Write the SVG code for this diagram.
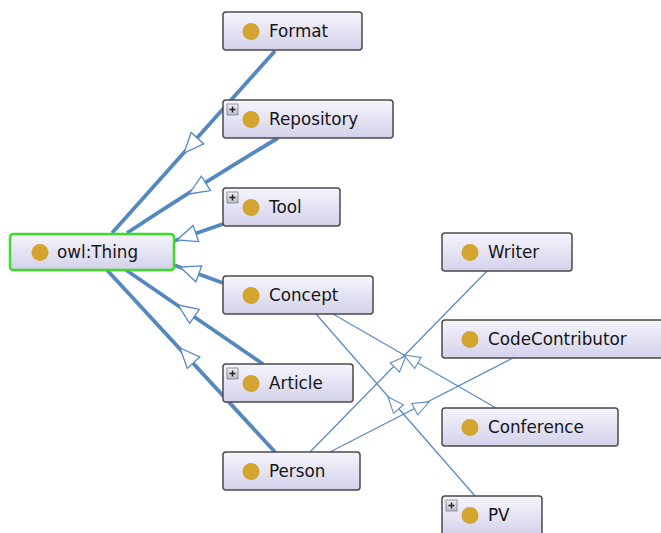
<svg xmlns="http://www.w3.org/2000/svg" xmlns:xlink="http://www.w3.org/1999/xlink" width="661" height="533" viewBox="0 0 661 533">
<defs>
<linearGradient id="g" x1="0" y1="0" x2="0" y2="1">
<stop offset="0" stop-color="#f6f5fc"/>
<stop offset="1" stop-color="#d3d1ea"/>
</linearGradient>
<linearGradient id="pg" x1="0" y1="0" x2="0" y2="1">
<stop offset="0" stop-color="#f2f2f2"/>
<stop offset="1" stop-color="#b8bcc8"/>
</linearGradient>
<polygon id="ahT" points="0,0 20,-8.5 20,8.5"/>
<polygon id="aht" points="0,0 16,-6.5 16,6.5"/>
<g id="plus">
<rect x="0" y="0" width="11" height="11" fill="url(#pg)" stroke="#7a7f8c" stroke-width="0.8"/>
<path d="M2.5 5.5H8.5M5.5 2.5V8.5" stroke="#222" stroke-width="1.4"/>
</g>
</defs>
<style>
.node rect.box{fill:url(#g);stroke:#4a4a4a;stroke-width:1.5}
.dot{fill:#d3a42e}
.lbl{font-family:"DejaVu Sans",sans-serif;font-size:16.8px;fill:#151515}
.thick{fill:none;stroke:#5588bf;stroke-width:3.8}
.thin{fill:none;stroke:#5b8dc2;stroke-width:1.3}
.ah{fill:#fff;stroke:#5588bf;stroke-width:1.3;stroke-linejoin:miter}
.ahs{fill:#fff;stroke:#5b8dc2;stroke-width:1.1;stroke-linejoin:miter}
</style>
<rect width="661" height="533" fill="#fff"/>
<g id="connectors">
<path class="thick" d="M112 233L275 51"/>
<path class="thick" d="M127 233Q200 185 278 138"/>
<path class="thick" d="M174 241L223 224"/>
<path class="thick" d="M174 265L223 283"/>
<path class="thick" d="M126 270L263 364"/>
<path class="thick" d="M107 270L275 452"/>
<path class="thin" d="M310 452L487 271"/>
<path class="thin" d="M330 452L513 358"/>
<path class="thin" d="M496 408L333 314"/>
<path class="thin" d="M475 496L316 314"/>
<use xlink:href="#ahT" class="ah" transform="translate(184,153) rotate(-47.7)"/>
<use xlink:href="#ahT" class="ah" transform="translate(189,194) rotate(-32.2)"/>
<use xlink:href="#ahT" class="ah" transform="translate(177,240) rotate(-19)"/>
<use xlink:href="#ahT" class="ah" transform="translate(180,267) rotate(20)"/>
<use xlink:href="#ahT" class="ah" transform="translate(178,305) rotate(34.5)"/>
<use xlink:href="#ahT" class="ah" transform="translate(180,348) rotate(47.3)"/>
<use xlink:href="#aht" class="ahs" transform="translate(406,356) rotate(134.4)"/>
<use xlink:href="#aht" class="ahs" transform="translate(429,402) rotate(152.8)"/>
<use xlink:href="#aht" class="ahs" transform="translate(404,355) rotate(30)"/>
<use xlink:href="#aht" class="ahs" transform="translate(388,397) rotate(48.9)"/>
</g>
<g id="owlThing" class="node">
<rect x="10" y="234" width="164" height="36" rx="3" fill="url(#g)" stroke="#3ddc2a" stroke-width="2.5"/>
<circle class="dot" cx="40" cy="252.5" r="8.5"/>
<text class="lbl" x="57" y="258">owl:Thing</text>
</g>
<g id="Format" class="node">
<rect class="box" x="223" y="12" width="139" height="38" rx="3"/>
<circle class="dot" cx="251" cy="31.5" r="8.5"/>
<text class="lbl" x="269" y="37">Format</text>
</g>
<g id="Repository" class="node">
<rect class="box" x="223" y="100" width="170" height="38" rx="3"/>
<use xlink:href="#plus" x="227" y="104"/>
<circle class="dot" cx="251" cy="119.5" r="8.5"/>
<text class="lbl" x="269" y="125">Repository</text>
</g>
<g id="Tool" class="node">
<rect class="box" x="223" y="188" width="117" height="38" rx="3"/>
<use xlink:href="#plus" x="227" y="192"/>
<circle class="dot" cx="251" cy="207.5" r="8.5"/>
<text class="lbl" x="269" y="213">Tool</text>
</g>
<g id="Concept" class="node">
<rect class="box" x="223" y="276" width="150" height="38" rx="3"/>
<circle class="dot" cx="251" cy="295.5" r="8.5"/>
<text class="lbl" x="269" y="301">Concept</text>
</g>
<g id="Article" class="node">
<rect class="box" x="223" y="364" width="130" height="38" rx="3"/>
<use xlink:href="#plus" x="227" y="368"/>
<circle class="dot" cx="251" cy="383.5" r="8.5"/>
<text class="lbl" x="269" y="389">Article</text>
</g>
<g id="Person" class="node">
<rect class="box" x="223" y="452" width="137" height="38" rx="3"/>
<circle class="dot" cx="251" cy="471.5" r="8.5"/>
<text class="lbl" x="269" y="477">Person</text>
</g>
<g id="Writer" class="node">
<rect class="box" x="442" y="233" width="130" height="38" rx="3"/>
<circle class="dot" cx="470" cy="252.5" r="8.5"/>
<text class="lbl" x="488" y="258">Writer</text>
</g>
<g id="CodeContributor" class="node">
<rect class="box" x="442" y="320" width="230" height="38" rx="3"/>
<circle class="dot" cx="470" cy="339.5" r="8.5"/>
<text class="lbl" x="488" y="345">CodeContributor</text>
</g>
<g id="Conference" class="node">
<rect class="box" x="442" y="408" width="176" height="38" rx="3"/>
<circle class="dot" cx="470" cy="427.5" r="8.5"/>
<text class="lbl" x="488" y="433">Conference</text>
</g>
<g id="PV" class="node">
<rect class="box" x="442" y="496" width="100" height="40" rx="3"/>
<use xlink:href="#plus" x="446" y="500"/>
<circle class="dot" cx="470" cy="515.5" r="8.5"/>
<text class="lbl" x="488" y="521">PV</text>
</g>
</svg>
